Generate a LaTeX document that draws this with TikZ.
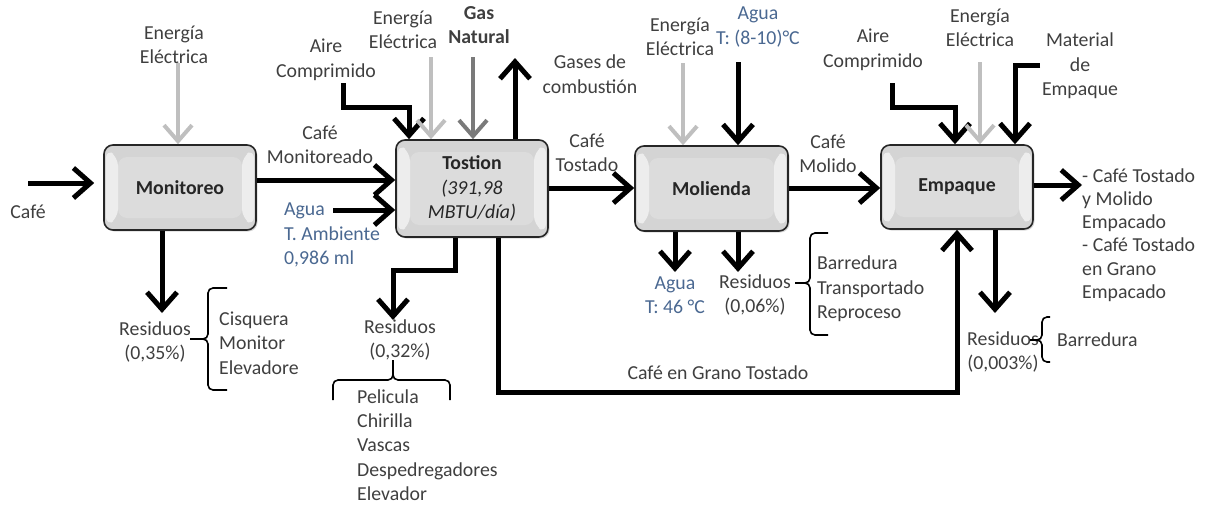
\documentclass[tikz,border=0pt]{standalone}
\usepackage{fontspec}
\setmainfont{Carlito}
\usetikzlibrary{arrows.meta,shadows}
\definecolor{txt}{HTML}{3F3F3F}
\definecolor{azul}{HTML}{4A6891}
\definecolor{gclaro}{HTML}{BFBFBF}
\definecolor{gosc}{HTML}{7A7A7A}
\definecolor{boxfill}{HTML}{D4D4D4}
\definecolor{boxin}{HTML}{DCDCDC}
\newcommand{\dfont}{\fontsize{19.8}{24.5}\selectfont}
\begin{document}
\begin{tikzpicture}[x=1pt,y=-1pt,
  every node/.style={inner sep=0pt, text=txt, font=\dfont},
  lbl/.style={align=center},
  lbll/.style={align=left, anchor=west},
  aguatxt/.style={text=azul},
  boldtxt/.style={font=\dfont\bfseries},
  proc/.style={draw=black!85, line width=1.6pt, rounded corners=9pt, fill=boxfill,
    align=center, text=black!85,
    drop shadow={shadow xshift=1.5pt, shadow yshift=-1.5pt, opacity=0.3},
    path picture={
      \fill[boxin] ([shift={(14pt,-12pt)}]path picture bounding box.north west) rectangle ([shift={(-14pt,12pt)}]path picture bounding box.south east);
      \fill[white,opacity=0.6] ([shift={(2pt,-4pt)}]path picture bounding box.north west) -- ([shift={(14pt,-12pt)}]path picture bounding box.north west) -- ([shift={(14pt,12pt)}]path picture bounding box.south west) -- ([shift={(2pt,4pt)}]path picture bounding box.south west) -- cycle;
      \fill[white,opacity=0.6] ([shift={(-2pt,-4pt)}]path picture bounding box.north east) -- ([shift={(-14pt,-12pt)}]path picture bounding box.north east) -- ([shift={(-14pt,12pt)}]path picture bounding box.south east) -- ([shift={(-2pt,4pt)}]path picture bounding box.south east) -- cycle;
    }},
  flowline/.style={line width=5pt, draw=black, line cap=rect},
  flow/.style={line width=5pt, draw=black, -{Straight Barb[length=17pt,width=30pt]}},
  grayflow/.style={line width=4pt, draw=gclaro, -{Straight Barb[length=16pt,width=28pt]}},
  gasflow/.style={line width=4pt, draw=gosc, -{Straight Barb[length=16pt,width=28pt]}},
  brace/.style={line width=1.6pt, draw=black, rounded corners=5pt},
]
\useasboundingbox (0,0) rectangle (1209,506);

% process boxes
\node[proc, boldtxt, minimum width=152pt, minimum height=85pt] (mon) at (180,187.5) {Monitoreo};
\node[proc, minimum width=152pt, minimum height=97pt] (tos) at (472,188.5) {{\bfseries Tostion}\\{\itshape (391,98}\\{\itshape MBTU/día)}};
\node[proc, boldtxt, minimum width=153pt, minimum height=85pt] (mol) at (711.5,188.5) {Molienda};
\node[proc, boldtxt, minimum width=152pt, minimum height=84pt] (emp) at (957,187) {Empaque};

% labels
\node[lbl] (lE1) at (174,45) {Energía\\Eléctrica};
\node[lbl] (lCafe) at (28,212) {Café};
\node[lbl] (lCM) at (320,145) {Café\\Monitoreado};
\node[lbll, aguatxt] (lAgua1) at (284,235) {Agua\\T. Ambiente\\0,986 ml};
\node[lbl] (lAire1) at (326,60) {Aire\\Comprimido};
\node[lbl] (lE2) at (403,30) {Energía\\Eléctrica};
\node[lbl, boldtxt] (lGas) at (479,25) {Gas\\Natural};
\node[lbl] (lGases) at (590,74) {Gases de\\combustión};
\node[lbl] (lCT) at (587,153) {Café\\Tostado};
\node[lbl] (lRes1) at (155,342) {Residuos\\(0,35\%)};
\node[lbll] (lList1) at (219,343) {Cisquera\\Monitor\\Elevadore};
\node[lbl] (lRes2) at (400,340) {Residuos\\(0,32\%)};
\node[lbll, font=\fontsize{19.8}{24.2}\selectfont] (lList2) at (357,445) {Pelicula\\Chirilla\\Vascas\\Despedregadores\\Elevador};
\node[lbl] (lE3) at (680,37) {Energía\\Eléctrica};
\node[lbl, aguatxt] (lAgua3) at (758,27) {Agua\\T: (8-10)°C};
\node[lbl] (lCMo) at (828,154) {Café\\Molido};
\node[lbl, aguatxt] (lAgua4) at (675,295) {Agua\\T: 46 °C};
\node[lbl] (lRes3) at (755,295) {Residuos\\(0,06\%)};
\node[lbll] (lList3) at (817,289) {Barredura\\Transportado\\Reproceso};
\node[lbl] (lAire4) at (873,50) {Aire\\Comprimido};
\node[lbl] (lE4) at (980,28) {Energía\\Eléctrica};
\node[lbl] (lMat) at (1080,66) {Material\\de\\Empaque};
\node[lbll, font=\fontsize{19.8}{23.3}\selectfont] (lOut) at (1082,235) {- Café Tostado\\y Molido\\Empacado\\- Café Tostado\\en Grano\\Empacado};
\node[lbl] (lRes4) at (1003,352) {Residuos\\(0,003\%)};
\node[lbll] (lBarr4) at (1057,340) {Barredura};
\node[lbl] (lGrano) at (718,373) {Café en Grano Tostado};

% coordinates
\coordinate (cafeS) at (28,183);
\coordinate (mt) at (0,180);
\coordinate (aguaS) at (333,210);
\coordinate (aire1S) at (343,85);
\coordinate (aire1K) at (409,107);
\coordinate (e1S) at (178,63);
\coordinate (e2S) at (431,57);
\coordinate (gasS) at (473,57);
\coordinate (gasesE) at (515,58);
\coordinate (tm) at (0,188);
\coordinate (r2a) at (455,270);
\coordinate (r2b) at (393,320);
\coordinate (retA) at (498,392);
\coordinate (retB) at (957,392);
\coordinate (r1) at (162,313);
\coordinate (e3S) at (683,63);
\coordinate (ag3S) at (738,62);
\coordinate (me) at (0,188);
\coordinate (ag4E) at (675,272);
\coordinate (r3E) at (738,272);
\coordinate (aire4S) at (892,85);
\coordinate (aire4K) at (955,107);
\coordinate (e4S) at (980,62);
\coordinate (matS) at (1040,65);
\coordinate (matK) at (1015,65);
\coordinate (outE) at (1082,185);
\coordinate (r4E) at (995,313);

% connectors
\draw[flow, shorten >=9pt] (cafeS) -- (cafeS -| mon.west);
\draw[flow] (mon.east |- mt) -- (tos.west |- mt);
\draw[flow] (aguaS) -- (aguaS -| tos.west);
\draw[flowline] (aire1S) |- (aire1K);
\draw[flow] (aire1K) -- (aire1K |- tos.north);
\draw[grayflow] (e2S) -- (e2S |- tos.north);
\draw[gasflow] (gasS) -- (gasS |- tos.north);
\draw[flow] (gasesE |- tos.north) -- (gasesE);
\draw[grayflow] (e1S) -- (e1S |- mon.north);
\draw[flow] (tos.east |- tm) -- (mol.west |- tm);
\draw[flow] (tos.south -| r2a) -- (r2a) -| (r2b);
\draw[flow] (tos.south -| retA) -- (retA) -- (retB) -- (retB |- emp.south);
\draw[flow] (mon.south -| r1) -- (r1);
\draw[grayflow] (e3S) -- (e3S |- mol.north);
\draw[flow] (ag3S) -- (ag3S |- mol.north);
\draw[flow] (mol.east |- me) -- (emp.west |- me);
\draw[flow] (mol.south -| ag4E) -- (ag4E);
\draw[flow] (mol.south -| r3E) -- (r3E);
\draw[flowline] (aire4S) |- (aire4K);
\draw[flow] (aire4K) -- (aire4K |- emp.north);
\draw[grayflow] (e4S) -- (e4S |- emp.north);
\draw[flow] (matS) -- (matK) -- (matK |- emp.north);
\draw[flow] (emp.east |- outE) -- (outE);
\draw[flow] (emp.south -| r4E) -- (r4E);

% braces
\draw[brace] (227,288) -| (208,339) -- (190,339);
\draw[brace] (190,339) -- (208,339) |- (227,390);
\draw[brace] (333,400) |- (393,380) -- (393,360);
\draw[brace] (393,360) -- (393,380) -| (450,400);
\draw[brace] (828,233) -| (810,283) -- (795,283);
\draw[brace] (795,283) -- (810,283) |- (828,335);
\draw[brace] (1050,317) -| (1042,340) -- (1030,340);
\draw[brace] (1030,340) -- (1042,340) |- (1050,362);
\end{tikzpicture}
\end{document}
